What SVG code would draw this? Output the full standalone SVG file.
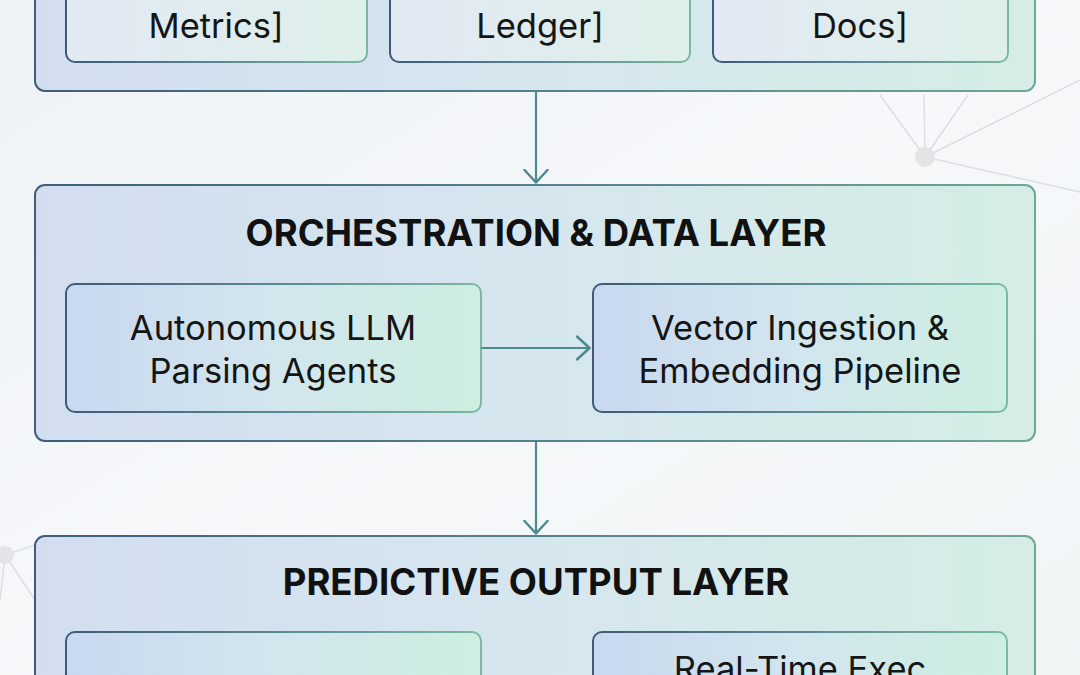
<svg xmlns="http://www.w3.org/2000/svg" width="1080" height="675" viewBox="0 0 1080 675">
<defs>
<linearGradient id="bg" x1="0" y1="0" x2="1" y2="1"><stop offset="0" stop-color="#eef2f6"/><stop offset="0.5" stop-color="#f6f8fa"/><stop offset="1" stop-color="#f1f5f6"/></linearGradient>
<linearGradient id="outerFill" x1="0" y1="0" x2="1" y2="0"><stop offset="0" stop-color="#d2def0"/><stop offset="0.5" stop-color="#d6e6ee"/><stop offset="1" stop-color="#d4ede5"/></linearGradient>
<linearGradient id="outerStroke" x1="0" y1="0" x2="1" y2="0"><stop offset="0" stop-color="#3f5d78"/><stop offset="0.5" stop-color="#55808e"/><stop offset="1" stop-color="#6fa795"/></linearGradient>
<linearGradient id="innerFill" x1="0" y1="0" x2="1" y2="0"><stop offset="0" stop-color="#c9d8ef"/><stop offset="0.5" stop-color="#d2e6ee"/><stop offset="1" stop-color="#cdeee0"/></linearGradient>
<linearGradient id="innerFillLight" x1="0" y1="0" x2="1" y2="0"><stop offset="0" stop-color="#e2e9f4"/><stop offset="1" stop-color="#def0ea"/></linearGradient>
<linearGradient id="innerStroke" x1="0" y1="0" x2="1" y2="0"><stop offset="0" stop-color="#3e5a77"/><stop offset="0.5" stop-color="#5a8793"/><stop offset="1" stop-color="#7cb8a4"/></linearGradient>
<marker id="arr" viewBox="0 0 16 26" refX="14.5" refY="13" markerWidth="16" markerHeight="26" markerUnits="userSpaceOnUse" orient="auto">
<path d="M1.5,1.5 L14,13 L1.5,24.5" fill="none" stroke="#4d8a8e" stroke-width="2.5" stroke-linecap="round" stroke-linejoin="round"/>
</marker>
<style>
.outer{fill:url(#outerFill);stroke:url(#outerStroke);stroke-width:2}
.inner{fill:url(#innerFill);stroke:url(#innerStroke);stroke-width:2}
.innerL{fill:url(#innerFillLight);stroke:url(#innerStroke);stroke-width:2}
.title{font-family:Inter,"Liberation Sans",sans-serif;font-weight:700;font-size:36.5px;fill:#111;text-anchor:middle}
.lbl{font-family:Inter,"Liberation Sans",sans-serif;font-weight:400;font-size:34.5px;fill:#151515;text-anchor:middle}
.conn{fill:none;stroke:#4d8a8e;stroke-width:2.2;marker-end:url(#arr)}
.net{stroke:#dcdfe2;stroke-width:1.5;fill:none}
.netn{fill:#e2e4e6}
</style>
</defs>
<rect width="1080" height="675" fill="url(#bg)"/>
<g id="background-network">
<path class="net" d="M925,157 L880,95 M925,157 L924,95 M925,157 L968,95 M925,157 L1080,80 M925,157 L1080,192"/>
<circle class="netn" cx="925" cy="157" r="10"/>
<path class="net" d="M5,555 L35,600 M5,555 L35,545 M5,555 L0,600"/>
<circle class="netn" cx="5" cy="555" r="9"/>
</g>
<g id="source-layer">
<rect class="outer" x="35" y="-60" width="1000" height="151" rx="10"/>
<g id="node-metrics"><rect class="innerL" x="66" y="-40" width="301" height="102" rx="9"/><text class="lbl" x="216" y="38">Metrics]</text></g>
<g id="node-ledger"><rect class="innerL" x="390" y="-40" width="300" height="102" rx="9"/><text class="lbl" x="540" y="38">Ledger]</text></g>
<g id="node-docs"><rect class="innerL" x="713" y="-40" width="295" height="102" rx="9"/><text class="lbl" x="860" y="38">Docs]</text></g>
</g>
<g id="orchestration-layer">
<rect class="outer" x="35" y="185" width="1000" height="256" rx="10"/>
<text class="title" x="536" y="246">ORCHESTRATION &amp; DATA LAYER</text>
<g id="node-llm"><rect class="inner" x="66" y="284" width="415" height="128" rx="9"/><text class="lbl" x="273" y="340">Autonomous LLM</text><text class="lbl" x="273" y="383">Parsing Agents</text></g>
<g id="node-vector"><rect class="inner" x="593" y="284" width="414" height="128" rx="9"/><text class="lbl" x="800" y="340">Vector Ingestion &amp;</text><text class="lbl" x="800" y="383">Embedding Pipeline</text></g>
</g>
<g id="predictive-layer">
<rect class="outer" x="35" y="536" width="1000" height="200" rx="10"/>
<text class="title" x="536" y="595">PREDICTIVE OUTPUT LAYER</text>
<g id="node-left-output"><rect class="inner" x="66" y="632" width="415" height="128" rx="9"/></g>
<g id="node-exec"><rect class="inner" x="593" y="632" width="414" height="128" rx="9"/><text class="lbl" x="800" y="681">Real-Time Exec</text></g>
</g>
<g id="connectors">
<path class="conn" d="M536,92 L536,183"/>
<path class="conn" d="M481,348 L590,348"/>
<path class="conn" d="M536,442 L536,534"/>
</g>
</svg>
